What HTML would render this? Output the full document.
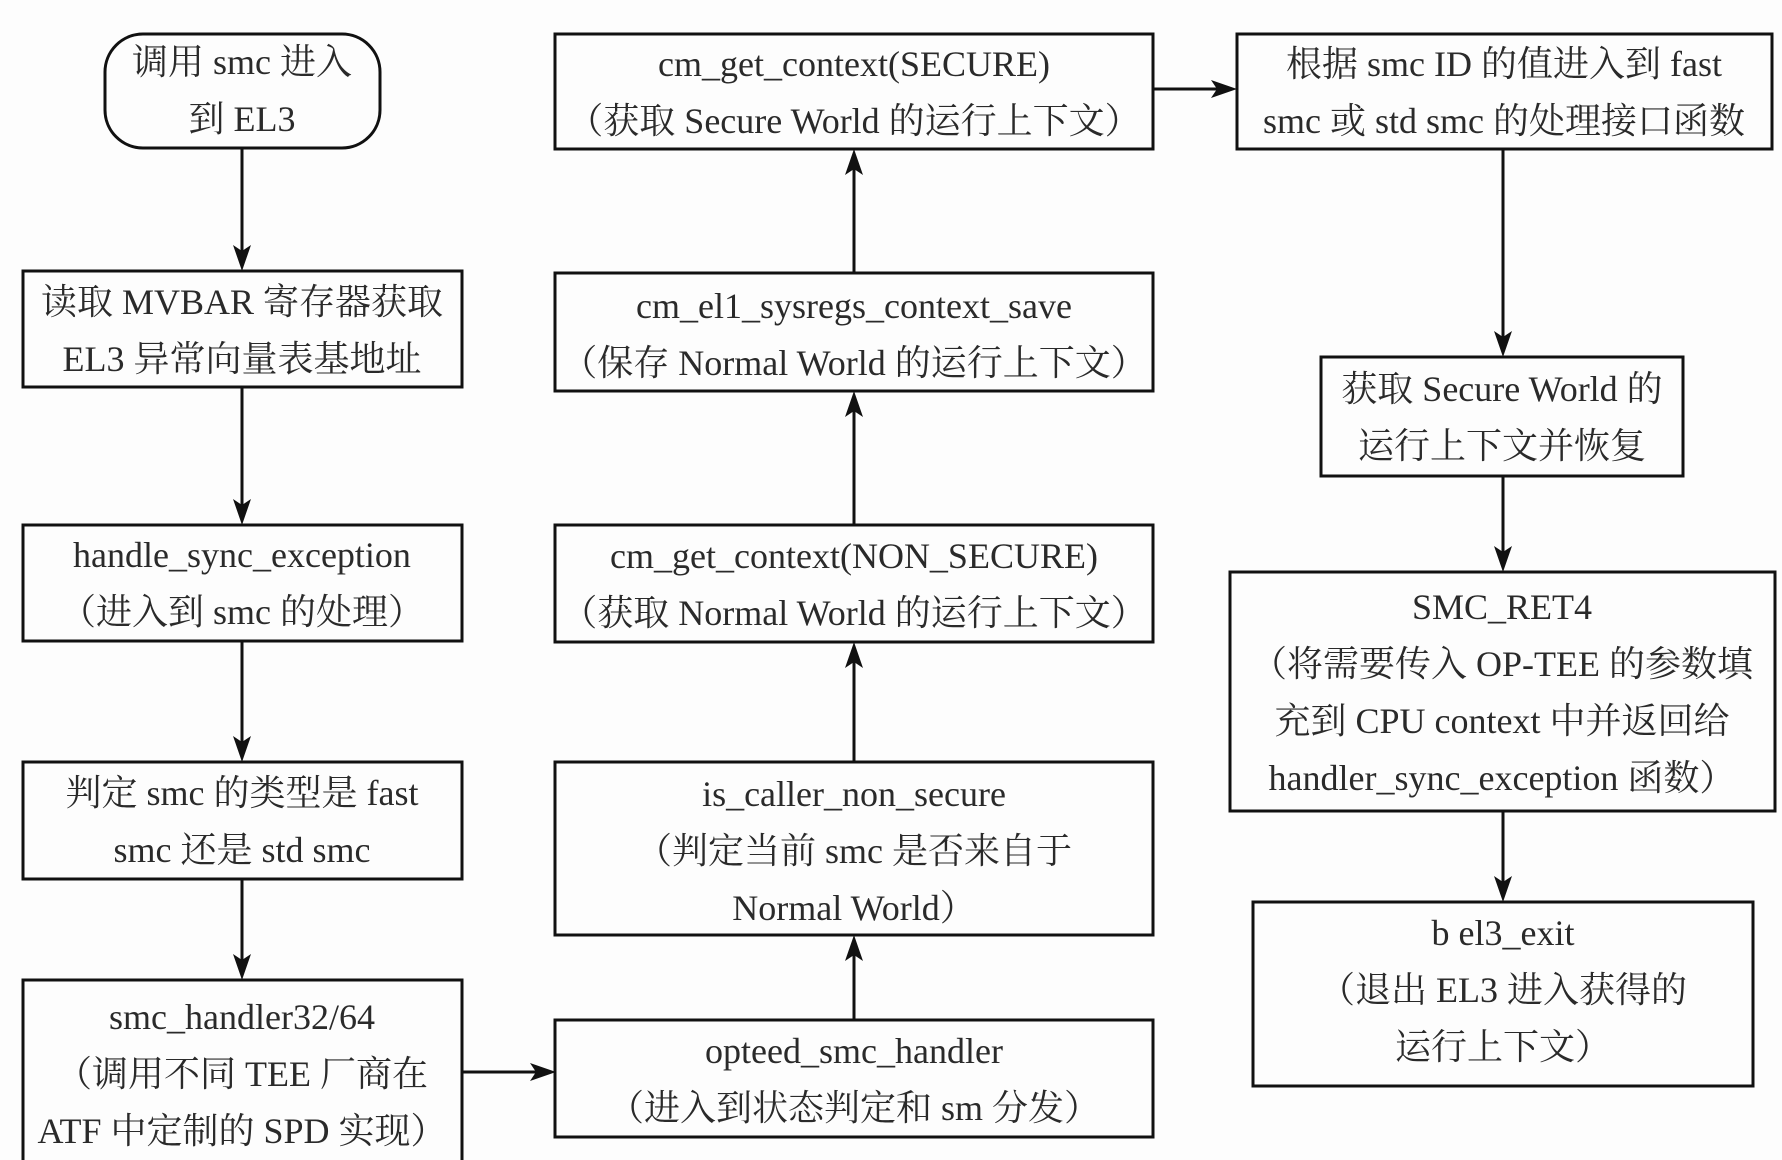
<!DOCTYPE html>
<html><head><meta charset="utf-8"><style>
html,body{margin:0;padding:0;background:#fdfdfd;}
svg{display:block}
text{font-family:"Liberation Serif","Noto Serif CJK SC",serif;font-size:36px;fill:#2a2a2a;text-anchor:middle}
rect{fill:none;stroke:#111;stroke-width:3}
line{stroke:#111;stroke-width:3}
polygon{fill:#111}
</style></head><body>
<svg width="1782" height="1160" viewBox="0 0 1782 1160" xmlns="http://www.w3.org/2000/svg">
<rect x="105" y="34" width="275" height="114" rx="38"/>
<text x="242" y="74">调用 smc 进入</text><text x="242" y="131">到 EL3</text>
<rect x="23" y="271" width="439" height="116"/>
<text x="242" y="314">读取 MVBAR 寄存器获取</text><text x="242" y="371">EL3 异常向量表基地址</text>
<rect x="23" y="525" width="439" height="116"/>
<text x="242" y="567">handle_sync_exception</text><text x="242" y="624">（进入到 smc 的处理）</text>
<rect x="23" y="762" width="439" height="117"/>
<text x="242" y="805">判定 smc 的类型是 fast</text><text x="242" y="862">smc 还是 std smc</text>
<rect x="23" y="980" width="439" height="185"/>
<text x="242" y="1029">smc_handler32/64</text><text x="242" y="1086">（调用不同 TEE 厂商在</text><text x="242" y="1143">ATF 中定制的 SPD 实现）</text>
<rect x="555" y="34" width="598" height="115"/>
<text x="854" y="76">cm_get_context(SECURE)</text><text x="854" y="133">（获取 Secure World 的运行上下文）</text>
<rect x="555" y="273" width="598" height="118"/>
<text x="854" y="318">cm_el1_sysregs_context_save</text><text x="854" y="375">（保存 Normal World 的运行上下文）</text>
<rect x="555" y="525" width="598" height="117"/>
<text x="854" y="568">cm_get_context(NON_SECURE)</text><text x="854" y="625">（获取 Normal World 的运行上下文）</text>
<rect x="555" y="762" width="598" height="173"/>
<text x="854" y="806">is_caller_non_secure</text><text x="854" y="863">（判定当前 smc 是否来自于</text><text x="854" y="920">Normal World）</text>
<rect x="555" y="1020" width="598" height="117"/>
<text x="854" y="1063">opteed_smc_handler</text><text x="854" y="1120">（进入到状态判定和 sm 分发）</text>
<rect x="1237" y="34" width="535" height="115"/>
<text x="1504" y="76">根据 smc ID 的值进入到 fast</text><text x="1504" y="133">smc 或 std smc 的处理接口函数</text>
<rect x="1321" y="357" width="362" height="119"/>
<text x="1502" y="401">获取 Secure World 的</text><text x="1502" y="458">运行上下文并恢复</text>
<rect x="1230" y="572" width="545" height="239"/>
<text x="1502" y="619">SMC_RET4</text><text x="1502" y="676">（将需要传入 OP-TEE 的参数填</text><text x="1502" y="733">充到 CPU context 中并返回给</text><text x="1502" y="790">handler_sync_exception 函数）</text>
<rect x="1253" y="902" width="500" height="184"/>
<text x="1503" y="945">b  el3_exit</text><text x="1503" y="1002">（退出 EL3 进入获得的</text><text x="1503" y="1059">运行上下文）</text>
<line x1="242" y1="148" x2="242" y2="255"/><polygon points="233,245 242,271 251,245 242,251"/>
<line x1="242" y1="387" x2="242" y2="509"/><polygon points="233,499 242,525 251,499 242,505"/>
<line x1="242" y1="641" x2="242" y2="746"/><polygon points="233,736 242,762 251,736 242,742"/>
<line x1="242" y1="879" x2="242" y2="964"/><polygon points="233,954 242,980 251,954 242,960"/>
<line x1="462" y1="1072" x2="540" y2="1072"/><polygon points="530,1063 556,1072 530,1081 536,1072"/>
<line x1="854" y1="1020" x2="854" y2="951"/><polygon points="845,961 854,935 863,961 854,955"/>
<line x1="854" y1="762" x2="854" y2="658"/><polygon points="845,668 854,642 863,668 854,662"/>
<line x1="854" y1="525" x2="854" y2="407"/><polygon points="845,417 854,391 863,417 854,411"/>
<line x1="854" y1="273" x2="854" y2="165"/><polygon points="845,175 854,149 863,175 854,169"/>
<line x1="1153" y1="89" x2="1221" y2="89"/><polygon points="1211,80 1237,89 1211,98 1217,89"/>
<line x1="1503" y1="149" x2="1503" y2="341"/><polygon points="1494,331 1503,357 1512,331 1503,337"/>
<line x1="1503" y1="476" x2="1503" y2="556"/><polygon points="1494,546 1503,572 1512,546 1503,552"/>
<line x1="1503" y1="811" x2="1503" y2="886"/><polygon points="1494,876 1503,902 1512,876 1503,882"/>
</svg>
</body></html>
